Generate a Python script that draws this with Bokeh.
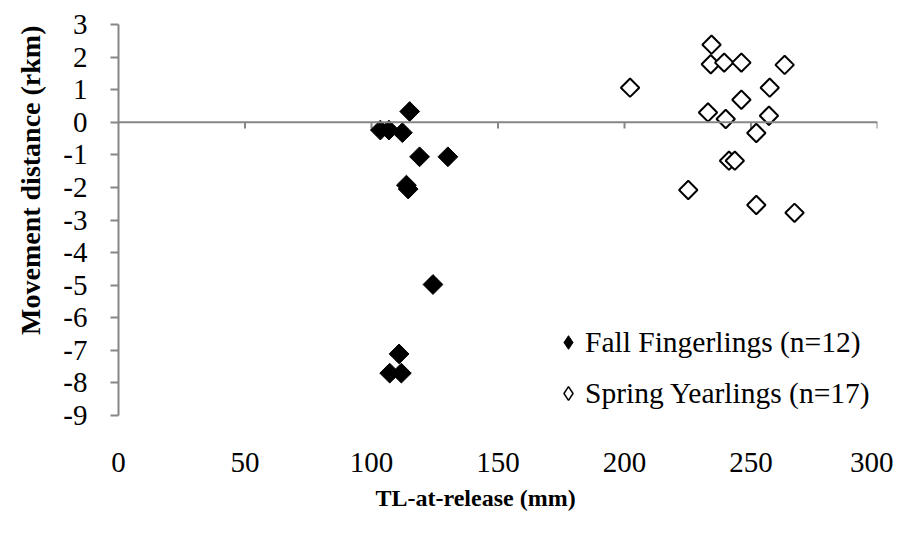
import math
from bokeh.plotting import figure
from bokeh.models import (Span, FixedTicker, Legend, LegendItem, ColumnDataSource, Title)
from bokeh.embed import file_html
from bokeh.resources import INLINE

# ---- data ----
fall_tl = [115.1, 103.5, 106.9, 112.2, 119.0, 130.2, 113.8, 114.5, 124.3, 110.9, 107.2, 111.8]
fall_mv = [0.33, -0.24, -0.24, -0.32, -1.06, -1.06, -1.93, -2.05, -4.98, -7.11, -7.70, -7.70]

spring_tl = [202.2, 225.2, 233.0, 234.1, 234.4, 239.4, 240.0, 241.3, 243.6, 246.2, 246.2,
             252.1, 252.1, 257.1, 257.4, 263.3, 267.2]
spring_mv = [1.06, -2.08, 0.30, 1.78, 2.38, 1.83, 0.10, -1.18, -1.18, 1.83, 0.69,
             -0.33, -2.54, 0.20, 1.06, 1.76, -2.78]

x_ticks = [0, 50, 100, 150, 200, 250, 300]
y_ticks = [-9, -8, -7, -6, -5, -4, -3, -2, -1, 0, 1, 2, 3]

x_title = "TL-at-release (mm)"
y_title = "Movement distance (rkm)"
fall_label = "Fall Fingerlings (n=12)"
spring_label = "Spring Yearlings (n=17)"

FONT = "Liberation Serif"
GRAY = "#868686"

p = figure(width=893, height=521, output_backend="svg", toolbar_location=None,
           x_range=(0, 300), y_range=(-9, 3),
           min_border_left=116, min_border_right=16, min_border_top=24, min_border_bottom=106)
p.outline_line_color = None
p.xgrid.visible = False
p.ygrid.visible = False
p.background_fill_color = "white"

# x axis: labels only (at the bottom)
xa = p.xaxis[0]
xa.ticker = FixedTicker(ticks=x_ticks)
xa.major_label_overrides = {t: str(t) for t in x_ticks}
xa.axis_line_color = None
xa.major_tick_line_color = None
xa.minor_tick_line_color = None
xa.major_tick_out = 0
xa.major_label_standoff = 37
xa.major_label_text_font = FONT
xa.major_label_text_font_size = "29px"
xa.major_label_text_color = "black"

# y axis
ya = p.yaxis[0]
ya.ticker = FixedTicker(ticks=y_ticks)
ya.major_label_overrides = {t: str(t) for t in y_ticks}
ya.axis_line_color = GRAY
ya.axis_line_width = 2
ya.major_tick_line_color = GRAY
ya.major_tick_line_width = 2
ya.major_tick_out = 8
ya.major_tick_in = 0
ya.minor_tick_line_color = None
ya.major_label_standoff = 23
ya.major_label_text_font = FONT
ya.major_label_text_font_size = "29px"
ya.major_label_text_color = "black"

# axis titles (off-centre, as in the original)
p.add_layout(Title(text=x_title, align="left", offset=257, vertical_align="middle",
                   standoff=18, text_font=FONT, text_font_size="24px",
                   text_font_style="bold", text_color="black"), "below")
p.add_layout(Title(text=y_title, align="right", offset=1, vertical_align="middle",
                   standoff=27, text_font=FONT, text_font_size="28px",
                   text_font_style="bold", text_color="black"), "left")

# zero line with downward tick marks
p.add_layout(Span(location=0, dimension="width", line_color=GRAY, line_width=2))
tick_x = x_ticks[1:]
p.segment(x0=tick_x, y0=[0] * len(tick_x), x1=tick_x, y1=[-0.19] * len(tick_x),
          line_color=GRAY, line_width=2)

fall_src = ColumnDataSource(dict(x=fall_tl, y=fall_mv))
spring_src = ColumnDataSource(dict(x=spring_tl, y=spring_mv))

p.scatter("x", "y", source=fall_src, marker="square", size=14, angle=math.pi / 4,
          fill_color="black", line_color="black", line_width=1)
p.scatter("x", "y", source=spring_src, marker="square", size=13, angle=math.pi / 4,
          fill_color="white", line_color="black", line_width=2)

# legend-only renderers (diamond glyphs for the key)
lf = p.scatter("x", "y", source=fall_src, marker="diamond", fill_color="black",
               line_color="black", line_width=1, visible=False)
ls = p.scatter("x", "y", source=spring_src, marker="diamond", fill_color="white",
               line_color="black", line_width=1.5, visible=False)

legend = Legend(items=[LegendItem(label=fall_label, renderers=[lf]),
                       LegendItem(label=spring_label, renderers=[ls])],
                location=(433, 5), border_line_color=None, background_fill_alpha=0,
                padding=0, margin=0, spacing=17, glyph_width=34, glyph_height=34,
                label_standoff=0, label_text_font=FONT, label_text_font_size="29.5px",
                label_text_color="black")
p.add_layout(legend)

open("out.html", "w").write(file_html(p, INLINE))
